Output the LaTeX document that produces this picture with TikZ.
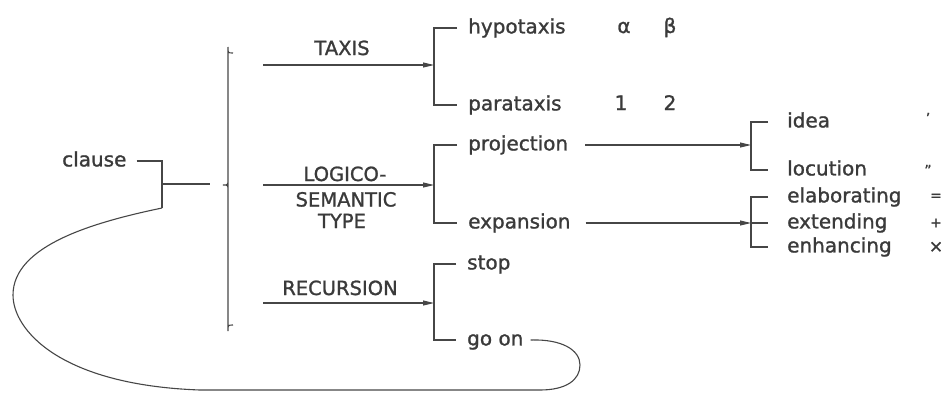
\documentclass[tikz,border=0pt]{standalone}
\usepackage{fontspec}
\setmainfont[FakeBold=1.2]{DejaVu Sans}
\usetikzlibrary{arrows.meta}
\definecolor{ink}{HTML}{3A3A3A}
\definecolor{rule}{HTML}{464646}

\begin{document}
\begin{tikzpicture}[x=1pt,y=-1pt,
  wire/.style={draw=rule, line width=1.1pt},
  feed/.style={wire, -{Triangle[length=11pt,width=5pt]}},
  term/.style={font=\fontsize{20}{24}\selectfont, text=ink, inner sep=0pt,
               text height=10.9pt, text depth=0pt, anchor=west},
  head/.style={font=\fontsize{19.5}{24}\selectfont, text=ink, inner sep=0pt, anchor=base},
  sign/.style={font=\fontsize{20}{24}\selectfont, text=ink, inner sep=0pt, anchor=base},
  symb/.style={font=\fontsize{14}{16}\selectfont, text=ink, inner sep=0pt},
]
\useasboundingbox (0,0) rectangle (946,392);

% entry point
\node[term] (clause) at (62,161) {clause};
\coordinate (cj) at (162,208);
\coordinate (cm) at (162,184);
\coordinate (bin) at (210,184);
\draw[wire] ([xshift=10pt]clause.east) -| (cj);
\draw[wire] (cm) -- (bin);

% curly brace over the three systems
\coordinate (bt) at (228,53);
\coordinate (bm) at (223,185);
\coordinate (bb) at (228,325);
\draw[wire] ([xshift=5pt]bt) .. controls (bt) .. ([yshift=6pt]bt) -- ([xshift=5pt,yshift=-6pt]bm)
  .. controls ([xshift=5pt]bm) .. (bm) .. controls ([xshift=5pt]bm) .. ([xshift=5pt,yshift=6pt]bm)
  -- ([yshift=-6pt]bb) .. controls (bb) .. ([xshift=5pt]bb);

% system names
\node[head] (taxis) at (342,55) {TAXIS};
\node[head] (lsa) at (345,181) {LOGICO-};
\node[head] (lsb) at (346,206.5) {SEMANTIC};
\node[head] (lsc) at (342,228) {TYPE};
\node[head] (recur) at (340,295) {RECURSION};

% arrows into the first-level choices
\coordinate (taxA) at (263,65);   \coordinate (taxB) at (434,65);
\coordinate (lsA) at (263,185);   \coordinate (lsB) at (434,185);
\coordinate (recA) at (263,303);  \coordinate (recB) at (434,303);
\draw[feed] (taxA) -- (taxB);
\draw[feed] (lsA) -- (lsB);
\draw[feed] (recA) -- (recB);

% TAXIS choices
\node[term] (hypo) at (468,28) {hypotaxis};
\node[term] (para) at (468,105) {parataxis};
\draw[wire] ([xshift=-11pt]hypo.west) -| (taxB) |- ([xshift=-11pt]para.west);
\node[sign] (alpha) at (624,33) {α};
\node[sign] (beta) at (670,33) {β};
\node[sign] (one) at (621,110) {1};
\node[sign] (two) at (670,110) {2};

% LOGICO-SEMANTIC TYPE choices
\node[term] (proj) at (468,145) {projection};
\node[term] (expa) at (468,223) {expansion};
\draw[wire] ([xshift=-11pt]proj.west) -| (lsB) |- ([xshift=-11pt]expa.west);

% RECURSION choices
\node[term] (stop) at (467,264) {stop};
\node[term] (goon) at (467,340) {go on};
\draw[wire] ([xshift=-11pt]stop.west) -| (recB) |- ([xshift=-11pt]goon.west);

% projection
\coordinate (projB) at (751,145);
\draw[feed, shorten <=17pt] (proj.east) -- (projB);
\node[term] (idea) at (787,122) {idea};
\node[term] (locu) at (787,170) {locution};
\draw[wire] ([xshift=-19pt]idea.west) -| (projB) |- ([xshift=-19pt]locu.west);
\node[symb] (q1) at (928,118) {\char"27};
\node[symb] (q2) at (928,170) {\char"22};

% expansion
\coordinate (expB) at (751,223);
\draw[feed, shorten <=15pt] (expa.east) -- (expB);
\node[term] (elab) at (787,197) {elaborating};
\node[term] (exte) at (787,223) {extending};
\node[term] (enha) at (787,247) {enhancing};
\draw[wire] ([xshift=-19pt]elab.west) -| (expB) |- ([xshift=-19pt]enha.west);
\draw[wire] (expB) -- ([xshift=-19pt]exte.west);
\node[symb] (s1) at (936,197) {=};
\node[symb] (s2) at (936,223) {+};
\node[symb, font=\fontsize{17}{18}\selectfont] (s3) at (936,247) {×};

% recursion loop back to the clause
\draw[wire] ([xshift=7pt]goon.east) .. controls (562,339) and (580,350) .. (580,365)
  .. controls (580,380) and (566,390) .. (540,390) -- (200,390)
  .. controls (60,385) and (13,330) .. (13,295)
  .. controls (13,245) and (95,222) .. (cj);
\end{tikzpicture}
\end{document}
